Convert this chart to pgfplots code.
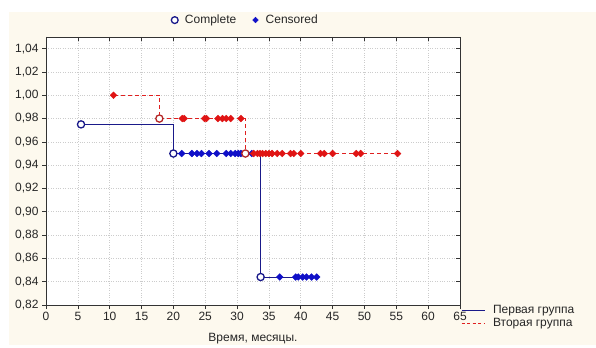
\documentclass[border=0pt]{standalone}
\usepackage{fontspec}
\setmainfont{Liberation Sans}
\usepackage{pgfplots}
\pgfplotsset{compat=1.18}
\definecolor{cream}{HTML}{FDF9EE}
\definecolor{navyline}{HTML}{1A1A8A}
\definecolor{bluemark}{HTML}{1010C8}
\definecolor{redln}{HTML}{E02020}
\definecolor{redmark}{HTML}{E01414}
\definecolor{redcirc}{HTML}{B42828}
\definecolor{txt}{HTML}{262626}
\begin{document}
\begin{tikzpicture}[x=1pt,y=1pt]
\fill[white] (0,0) rectangle (596,345);
\fill[cream] (9,0) rectangle (596,333);
\pgfplotsset{
  common/.style={
    at={(46pt,40pt)}, anchor=south west, scale only axis,
    width=414pt, height=268pt,
    xmin=0, xmax=65, ymin=0.82, ymax=1.05,
    xtick={0,5,10,15,20,25,30,35,40,45,50,55,60,65},
    ytick={0.82,0.84,0.86,0.88,0.90,0.92,0.94,0.96,0.98,1.00,1.02,1.04},
    major tick length=4pt,
    tick style={black!80, line width=0.6pt},
    font=\fontsize{12}{14}\selectfont,
  }
}
\begin{axis}[common,
  axis background/.style={fill=white},
  axis line style={black!80, line width=0.8pt},
  xtick pos=left, ytick pos=left, tick align=outside,
  grid=major,
  major grid style={dotted, gray!40, line width=0.6pt},
  /pgf/number format/assume math mode=true,
  ticklabel style={text=txt, font=\fontsize{12}{14}\selectfont},
  yticklabel style={/pgf/number format/.cd, fixed, fixed zerofill, precision=2, use comma},
  xticklabel style={/pgf/number format/.cd, fixed},
  xlabel={Время, месяцы.},
  xlabel style={at={(axis description cs:0.5,-0.127)}, anchor=center, text=txt, font=\fontsize{12}{14}\selectfont},
  legend style={at={(0.481,1.063)}, anchor=center, draw=none, fill=none,
    font=\fontsize{12}{14}\selectfont, text=txt},
  legend columns=2,
  legend image code/.code={\draw[#1] plot coordinates {(0pt,0pt)}; \path (-4pt,0pt) (8pt,0pt);},
  /tikz/every even column/.append style={column sep=13pt},
]
% legend entries
\addlegendimage{only marks, mark=*, mark size=3.4pt, mark options={fill=white, draw=navyline, line width=1.3pt}}
\addlegendentry{Complete}
\addlegendimage{only marks, mark=square*, mark size=2pt, mark options={fill=bluemark, draw=bluemark, rotate=45}}
\addlegendentry{Censored}
% Group 1 (blue)
\addplot[draw=navyline, line width=0.9pt, forget plot] coordinates {
(5.5,0.975) (20,0.975) (20,0.95) (33.7,0.95) (33.7,0.844) (42.5,0.844)};
\addplot[only marks, mark=square*, mark size=2.4pt, mark options={fill=bluemark, draw=bluemark, rotate=45}, forget plot] coordinates {
(21.3,0.95) (22.9,0.95) (23.7,0.95) (24.4,0.95) (25.6,0.95) (26.8,0.95) (28.3,0.95) (29.0,0.95) (29.7,0.95) (30.2,0.95) (30.6,0.95) (31.5,0.95) (32.3,0.95)
(36.7,0.844) (39.2,0.844) (39.6,0.844) (40.3,0.844) (40.9,0.844) (41.7,0.844) (42.5,0.844)};
\addplot[only marks, mark=*, mark size=3.6pt, mark options={fill=white, draw=navyline, line width=1.3pt}, forget plot] coordinates {
(5.5,0.975) (20,0.95) (33.7,0.844)};
% Group 2 (red)
\addplot[color=redln, draw=redln, line width=1.2pt, dash pattern=on 4pt off 3pt, forget plot] coordinates {
(10.6,1.00) (17.8,1.00) (17.8,0.98) (31.3,0.98) (31.3,0.95) (55.2,0.95)};
\addplot[only marks, mark=square*, mark size=2.4pt, mark options={fill=redmark, draw=redmark, rotate=45}, forget plot] coordinates {
(10.6,1.00)
(21.4,0.98) (21.7,0.98) (24.9,0.98) (25.2,0.98) (27.0,0.98) (27.7,0.98) (28.3,0.98) (29.0,0.98) (30.6,0.98)
(32.6,0.95) (33.2,0.95) (33.6,0.95) (34.0,0.95) (34.5,0.95) (35.0,0.95) (35.5,0.95) (36.3,0.95) (37.1,0.95) (38.4,0.95) (38.9,0.95) (40.0,0.95) (43.1,0.95) (43.7,0.95) (45.0,0.95) (48.7,0.95) (49.4,0.95) (55.2,0.95)};
\addplot[only marks, mark=*, mark size=3.6pt, mark options={fill=white, draw=redcirc, line width=1.3pt}, forget plot] coordinates {
(17.8,0.98) (31.3,0.95)};
\end{axis}
\begin{axis}[common,
  axis line style={draw=none},
  xtick pos=right, ytick pos=right, tick align=inside,
  xticklabels={}, yticklabels={},
  legend style={at={(1.002,0.003)}, anchor=north west, draw=none, fill=none, inner sep=0pt,
    font=\fontsize{12}{14}\selectfont, text=txt, row sep=1.5pt,
    nodes={inner sep=1pt}},
  legend cell align=left,
  legend image code/.code={\draw[#1] (0pt,0pt) -- (23pt,0pt);},
  /tikz/every odd column/.append style={column sep=7pt},
]
\addlegendimage{draw=navyline, line width=0.8pt}
\addlegendentry{Первая группа}
\addlegendimage{draw=redln, line width=1pt, dash pattern=on 3pt off 2.5pt}
\addlegendentry{Вторая группа}
\end{axis}
\end{tikzpicture}
\end{document}
